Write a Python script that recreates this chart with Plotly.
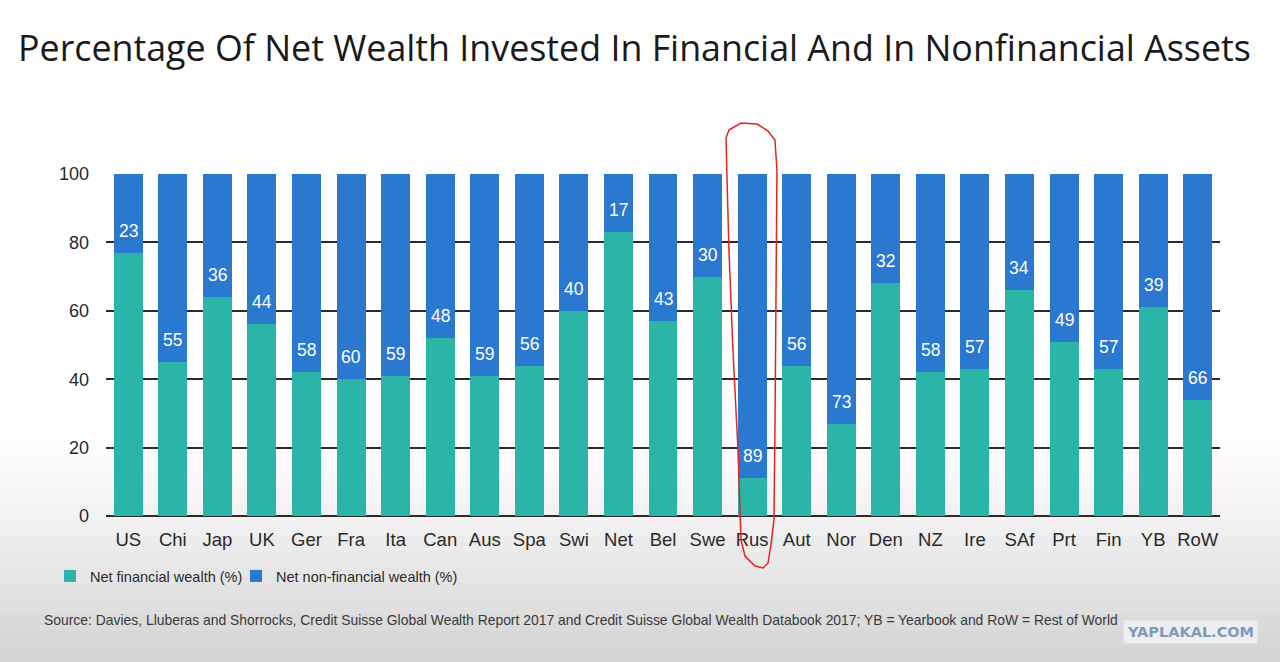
import plotly.graph_objects as go

# data
countries = ['US', 'Chi', 'Jap', 'UK', 'Ger', 'Fra', 'Ita', 'Can', 'Aus', 'Spa',
             'Swi', 'Net', 'Bel', 'Swe', 'Rus', 'Aut', 'Nor', 'Den', 'NZ', 'Ire',
             'SAf', 'Prt', 'Fin', 'YB', 'RoW']
financial = [77, 45, 64, 56, 42, 40, 41, 52, 41, 44,
             60, 83, 57, 70, 11, 44, 27, 68, 42, 43,
             66, 51, 43, 61, 34]
non_financial = [23, 55, 36, 44, 58, 60, 59, 48, 59, 56,
                 40, 17, 43, 30, 89, 56, 73, 32, 58, 57,
                 34, 49, 57, 39, 66]
y_ticks = [0, 20, 40, 60, 80, 100]

TEAL = '#2bb5a8'
BLUE = '#2b78d1'
FONT = 'Liberation Sans, Arial, sans-serif'

# plot area in pixels (1280 x 662 page)
L, R, T, B = 106, 60, 174, 146
W, H = 1280 - L - R, 662 - T - B


def px_to_paper(px, py):
    return (px - L) / W, (662 - B - py) / H


fig = go.Figure()

fig.add_trace(go.Bar(
    x=countries, y=financial, name='Net financial wealth (%)',
    marker=dict(color=TEAL, line=dict(width=0)), legend='legend',
    showlegend=True,
))
fig.add_trace(go.Bar(
    x=countries, y=non_financial, name='Net non-financial wealth (%)',
    marker=dict(color=BLUE, line=dict(width=0)), legend='legend2',
    showlegend=True,
))

# value labels sit just above the teal/blue boundary
annotations = []
for c, f, n in zip(countries, financial, non_financial):
    annotations.append(dict(
        x=c, y=f, text=str(n), showarrow=False, yanchor='bottom', yshift=10,
        font=dict(family=FONT, size=17.5, color='white'),
    ))

annotations.append(dict(
    xref='paper', yref='paper', x=(42 - L) / W, y=px_to_paper(0, 620)[1],
    xanchor='left', yanchor='middle', showarrow=False,
    text='Source: Davies, Lluberas and Shorrocks, Credit Suisse Global Wealth Report 2017 '
         'and Credit Suisse Global Wealth Databook 2017; YB = Yearbook and RoW = Rest of World',
    font=dict(family=FONT, size=13.9, color='#3a3a3a'),
))
annotations.append(dict(
    xref='paper', yref='paper', x=(1258 - L) / W, y=px_to_paper(0, 632)[1],
    xanchor='right', yanchor='middle', showarrow=False,
    text='<b>YAPLAKAL.COM</b>', bgcolor='#eceef2', borderpad=3,
    font=dict(family='DejaVu Sans, sans-serif', size=14.5, color='#8199b8'),
))

# soft grey fade towards the bottom of the screenshot
shapes = []
n_bands = 14
top, bottom = 440, 662
for i in range(n_bands):
    y0 = top + (bottom - top) * i / n_bands
    y1 = top + (bottom - top) * (i + 1) / n_bands
    g = int(254 - 42 * ((i + 1) / n_bands) ** 1.3)
    shapes.append(dict(
        type='rect', xref='paper', yref='paper', layer='below', line=dict(width=0),
        x0=px_to_paper(0, 0)[0], x1=px_to_paper(1280, 0)[0],
        y0=px_to_paper(0, y1 + 0.5)[1], y1=px_to_paper(0, y0)[1],
        fillcolor=f'rgb({g},{g},{g})',
    ))

# hand-drawn red loop around Rus
loop = [(726, 138), (729, 130), (741, 123), (757, 124), (768, 131), (775, 140),
        (777, 170), (776, 300), (775, 430), (774, 520), (771, 545), (768, 563),
        (763, 568), (755, 566), (745, 556), (741, 540), (740, 510), (738, 450),
        (733, 350), (729, 250), (727, 180), (726, 138)]
path = ''
for i, (px, py) in enumerate(loop):
    xp, yp = px_to_paper(px, py)
    path += ('M' if i == 0 else 'L') + f'{xp:.4f},{yp:.4f} '
shapes.append(dict(type='path', xref='paper', yref='paper', path=path,
                   line=dict(color='#e8231f', width=1.5)))

legend_style = dict(
    orientation='h', xanchor='left', yanchor='middle',
    y=px_to_paper(0, 576)[1],
    font=dict(family=FONT, size=14.5, color='#2a2a2a'),
    bgcolor='rgba(0,0,0,0)', itemwidth=30,
)

fig.update_layout(
    width=1280, height=662,
    margin=dict(l=L, r=R, t=T, b=B),
    barmode='stack', bargap=0.35, showlegend=True,
    plot_bgcolor='rgba(0,0,0,0)', paper_bgcolor='white',
    title=dict(
        text='Percentage Of Net Wealth Invested In Financial And In Nonfinancial Assets',
        x=18 / 1280, xanchor='left', xref='container',
        y=1 - 48 / 662, yanchor='middle', yref='container',
        font=dict(family='Open Sans, sans-serif', size=35.8, color='#1a1a1a'),
    ),
    legend=dict(x=(50 - L) / W, **legend_style),
    legend2=dict(x=(236 - L) / W, **legend_style),
    xaxis=dict(
        type='category', showgrid=False, ticks='', showline=False,
        ticklabelstandoff=10,
        tickfont=dict(family=FONT, size=18.5, color='#2a2a2a'),
    ),
    yaxis=dict(
        range=[0, 100], tickvals=y_ticks, showgrid=True,
        gridcolor='#2b2b2b', gridwidth=1.5,
        zeroline=True, zerolinecolor='#2b2b2b', zerolinewidth=2,
        ticks='', ticklabelstandoff=16,
        tickfont=dict(family=FONT, size=18, color='#2a2a2a'),
    ),
    annotations=annotations,
    shapes=shapes,
)

fig.write_html('out.html', config={'displayModeBar': False},
               post_script="document.body.style.margin='0';")
